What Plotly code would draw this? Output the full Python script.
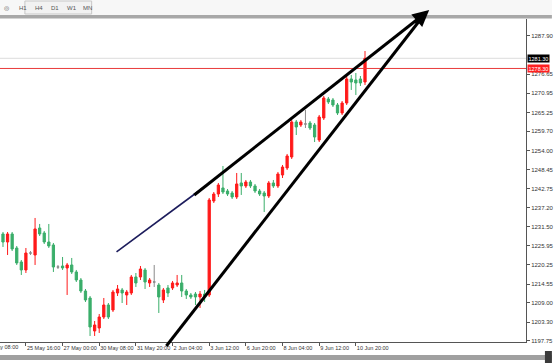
import pandas as pd
import plotly.graph_objects as go

# ---------------- data (XAUUSD, H4) ----------------
opens = [1229.37, 1227.00, 1229.37, 1225.23, 1221.09, 1218.73, 1223.75, 1223.16, 1231.14, 1229.67,
         1227.00, 1226.12, 1219.61, 1219.91, 1219.32, 1220.21, 1218.14, 1215.77, 1212.52, 1210.45,
         1200.70, 1201.58, 1204.83, 1208.38, 1206.90, 1211.93, 1212.82, 1211.34, 1211.93, 1216.66,
         1216.66, 1218.73, 1214.89, 1215.18, 1214.29, 1209.86, 1213.41, 1213.41, 1214.29, 1214.89,
         1212.52, 1211.34, 1211.63, 1210.75, 1211.63, 1211.34, 1239.12, 1241.19, 1242.97, 1242.08,
         1241.49, 1240.31, 1244.45, 1243.56, 1244.74, 1243.56, 1242.08, 1241.49, 1240.60, 1244.45,
         1243.56, 1246.81, 1248.88, 1252.13, 1262.48, 1261.59, 1261.89, 1262.18, 1261.59, 1257.16,
         1263.66, 1269.28, 1268.98, 1267.50, 1265.14, 1268.09, 1275.19, 1274.89, 1275.19, 1274.30]
highs = [1229.96, 1229.96, 1229.96, 1225.82, 1221.68, 1225.23, 1224.34, 1234.10, 1232.33, 1230.26,
         1232.33, 1226.71, 1220.21, 1222.57, 1220.80, 1222.28, 1218.73, 1216.36, 1213.11, 1211.04,
         1203.65, 1205.72, 1210.45, 1208.97, 1212.82, 1214.29, 1213.41, 1212.82, 1217.25, 1217.84,
         1219.91, 1219.32, 1216.36, 1220.21, 1214.89, 1213.41, 1214.29, 1215.48, 1217.25, 1217.25,
         1213.11, 1211.93, 1212.22, 1212.52, 1212.82, 1240.01, 1241.78, 1244.45, 1249.47, 1242.67,
         1242.08, 1247.40, 1247.40, 1245.33, 1245.33, 1244.15, 1242.67, 1242.08, 1245.04, 1245.33,
         1247.70, 1249.77, 1253.02, 1263.07, 1263.07, 1263.07, 1266.02, 1262.77, 1262.18, 1264.55,
         1270.16, 1269.87, 1269.57, 1268.09, 1268.68, 1276.07, 1276.37, 1276.96, 1276.07, 1283.46]
lows = [1225.53, 1223.16, 1224.34, 1220.21, 1217.25, 1217.84, 1223.16, 1220.21, 1228.78, 1226.41,
        1225.23, 1218.14, 1219.02, 1218.73, 1211.34, 1217.55, 1215.18, 1211.93, 1209.27, 1199.22,
        1199.22, 1200.11, 1204.24, 1204.24, 1206.31, 1211.04, 1208.97, 1208.38, 1211.34, 1213.70,
        1215.77, 1213.11, 1213.70, 1213.70, 1206.02, 1208.97, 1210.75, 1212.82, 1213.70, 1210.75,
        1210.16, 1210.16, 1208.38, 1207.50, 1209.27, 1210.75, 1238.53, 1240.31, 1241.19, 1240.60,
        1239.72, 1239.72, 1240.90, 1242.97, 1242.97, 1241.49, 1240.60, 1235.87, 1240.01, 1242.97,
        1242.97, 1245.92, 1248.29, 1251.54, 1258.63, 1261.00, 1260.70, 1260.11, 1256.56, 1256.56,
        1263.07, 1267.80, 1266.91, 1264.55, 1264.55, 1267.50, 1271.94, 1270.46, 1273.12, 1273.41]
closes = [1227.00, 1229.37, 1224.94, 1220.80, 1218.73, 1223.75, 1223.75, 1230.85, 1229.37, 1227.00,
          1225.82, 1219.61, 1219.61, 1219.32, 1220.21, 1218.14, 1215.77, 1212.52, 1209.86, 1201.88,
          1202.47, 1204.83, 1208.38, 1204.83, 1212.22, 1213.11, 1211.93, 1212.22, 1216.66, 1214.89,
          1219.02, 1215.18, 1215.77, 1215.18, 1210.75, 1212.82, 1211.93, 1214.89, 1214.89, 1212.52,
          1211.34, 1210.75, 1210.75, 1211.63, 1211.04, 1239.42, 1241.19, 1243.85, 1241.78, 1241.19,
          1240.31, 1244.15, 1243.56, 1244.74, 1243.56, 1242.08, 1241.19, 1240.60, 1244.45, 1243.56,
          1247.11, 1249.17, 1252.43, 1262.48, 1261.00, 1262.48, 1261.89, 1260.70, 1258.04, 1263.95,
          1269.57, 1268.39, 1267.50, 1265.14, 1268.09, 1275.19, 1274.30, 1274.01, 1274.01, 1281.30]
doji_bars = [6, 12, 33, 66]

first_bar = "2016-05-24 20:00"
missing_bars = ["30 May 20:00"]
hidden_tick_label = "24 May 08:00"
tick_labels = ["25 May 16:00", "27 May 00:00", "30 May 08:00", "31 May 20:00", "2 Jun 04:00",
               "3 Jun 12:00", "6 Jun 20:00", "8 Jun 04:00", "9 Jun 12:00", "10 Jun 20:00"]
price_ticks = [1287.90, 1276.65, 1270.95, 1265.25, 1259.70, 1254.00, 1248.45, 1242.75,
               1237.20, 1231.50, 1225.95, 1220.25, 1214.55, 1209.00, 1203.30, 1197.75]
bid_price = closes[-1]
hline_price = 1278.30

# trend lines: (bar index, price)
thin_line = [(24.78, 1224.05), (43.91, 1243.26)]
upper_line = [(41.74, 1240.90), (92.2, 1294.7)]
lower_line = [(35.65, 1196.26), (92.2, 1294.7)]
arrow_tip = (93.0, 1295.6)

# ---------------- build ----------------
times = []
t = pd.Timestamp(first_bar)
while len(times) < len(opens):
    lab = f"{t.day} {t:%b %H:%M}"
    if t.weekday() < 5 and lab not in missing_bars:
        times.append(lab)
    t += pd.Timedelta(hours=4)

X_RANGE = [-0.652, 114.13]
Y_RANGE = [1197.44, 1292.92]
PLOT_W, PLOT_H = 528, 323

def px_(i):
    return (i - X_RANGE[0]) / (X_RANGE[1] - X_RANGE[0])

def py_(p):
    return (p - Y_RANGE[0]) / (Y_RANGE[1] - Y_RANGE[0])

def pix_x(X):
    return X / PLOT_W

def pix_y(Y):
    return (342 - Y) / PLOT_H

def mask(vals, keep):
    return [v if keep(k) else None for k, v in enumerate(vals)]

RED = "#ff1a1a"
GREEN = "#3aae6a"
FONT = "Liberation Sans"

fig = go.Figure()
fig.add_trace(go.Candlestick(
    x=times,
    open=mask(opens, lambda k: k not in doji_bars),
    high=mask(highs, lambda k: k not in doji_bars),
    low=mask(lows, lambda k: k not in doji_bars),
    close=mask(closes, lambda k: k not in doji_bars),
    increasing=dict(line=dict(color=RED, width=1), fillcolor=RED),
    decreasing=dict(line=dict(color=GREEN, width=1), fillcolor=GREEN),
    whiskerwidth=0, showlegend=False, hoverinfo="skip"))
fig.add_trace(go.Candlestick(
    x=[times[k] for k in doji_bars],
    open=[opens[k] for k in doji_bars],
    high=[highs[k] for k in doji_bars],
    low=[lows[k] for k in doji_bars],
    close=[closes[k] for k in doji_bars],
    increasing=dict(line=dict(color="#8a8a8a", width=1), fillcolor="#8a8a8a"),
    decreasing=dict(line=dict(color="#8a8a8a", width=1), fillcolor="#8a8a8a"),
    whiskerwidth=0, showlegend=False, hoverinfo="skip"))

shapes = []
# horizontal price lines
shapes.append(dict(type="line", xref="paper", yref="y", x0=0, x1=1, y0=bid_price, y1=bid_price,
                   line=dict(color="#dcdcdc", width=1), layer="below"))
shapes.append(dict(type="line", xref="paper", yref="y", x0=0, x1=1, y0=hline_price, y1=hline_price,
                   line=dict(color="#e83a3a", width=1)))
# trend lines
for (a, b), col, w in [(thin_line, "#1c1c5c", 1.6), (upper_line, "black", 3), (lower_line, "black", 3)]:
    shapes.append(dict(type="line", xref="paper", yref="paper",
                       x0=px_(a[0]), y0=py_(a[1]), x1=px_(b[0]), y1=py_(b[1]),
                       line=dict(color=col, width=w)))
# window chrome
shapes += [
    dict(type="rect", xref="paper", yref="paper", x0=pix_x(0), x1=pix_x(554), y0=pix_y(0), y1=pix_y(15),
         fillcolor="#f7f7f7", line=dict(width=0), layer="below"),
    dict(type="rect", xref="paper", yref="paper", x0=pix_x(25), x1=pix_x(92), y0=pix_y(1), y1=pix_y(14),
         fillcolor="#f2f2f2", line=dict(color="#c8c8c8", width=1), layer="below"),
    dict(type="rect", xref="paper", yref="paper", x0=pix_x(0), x1=pix_x(554), y0=pix_y(15), y1=pix_y(18.5),
         fillcolor="#a8a8a8", line=dict(width=0), layer="below"),
    dict(type="rect", xref="paper", yref="paper", x0=pix_x(0), x1=pix_x(554), y0=pix_y(355), y1=pix_y(360),
         fillcolor="#a0a0a0", line=dict(width=0)),
    dict(type="rect", xref="paper", yref="paper", x0=pix_x(547), x1=pix_x(554), y0=pix_y(351), y1=pix_y(363),
         fillcolor="#3a3a3a", line=dict(width=0)),
]

annotations = [
    dict(xref="paper", yref="paper", x=px_(arrow_tip[0]), y=py_(arrow_tip[1]), ax=-16, ay=14,
         showarrow=True, arrowhead=2, arrowsize=1.1, arrowwidth=3, arrowcolor="black", text=""),
    dict(xref="paper", yref="y", x=1, y=bid_price, xanchor="left", yanchor="middle", xshift=1,
         text=f"{bid_price:.2f}", font=dict(size=5.5, color="white", family=FONT),
         bgcolor="black", borderpad=0.5, showarrow=False),
    dict(xref="paper", yref="y", x=1, y=hline_price, xanchor="left", yanchor="middle", xshift=1,
         text=f"{hline_price:.2f}", font=dict(size=5.5, color="white", family=FONT),
         bgcolor="#ff2020", borderpad=0.5, showarrow=False),
    dict(xref="paper", yref="paper", x=px_(-3.0), y=pix_y(347), xanchor="left", yanchor="middle",
         xshift=-6, text=hidden_tick_label, showarrow=False,
         font=dict(size=5.5, color="#333", family=FONT)),
]
for txt, X in [("◎", 2), ("H1", 17), ("H4", 33), ("D1", 49), ("W1", 65), ("MN", 81)]:
    annotations.append(dict(xref="paper", yref="paper", x=pix_x(X), y=pix_y(7.5), xanchor="left",
                            yanchor="middle", text=txt, showarrow=False,
                            font=dict(size=6, color="#555", family=FONT)))

fig.update_layout(
    width=554, height=363,
    margin=dict(l=0, r=26, t=19, b=21),
    paper_bgcolor="white", plot_bgcolor="white",
    showlegend=False,
    shapes=shapes, annotations=annotations,
    font=dict(family=FONT, size=6, color="#333"),
    xaxis=dict(type="category", categoryorder="array", categoryarray=times,
               range=X_RANGE, rangeslider=dict(visible=False),
               tickmode="array", tickvals=tick_labels, ticktext=tick_labels, tickangle=0,
               ticklabelposition="outside right", ticks="outside", ticklen=3, tickcolor="#555",
               showgrid=False, zeroline=False, showline=True, linecolor="#555", linewidth=1,
               tickfont=dict(size=5.5, color="#333")),
    yaxis=dict(side="right", range=Y_RANGE, tickmode="array", tickvals=price_ticks,
               ticktext=[f"{v:.2f}" for v in price_ticks], ticks="outside", ticklen=3,
               tickcolor="#555", showgrid=False, zeroline=False, showline=True,
               linecolor="#555", linewidth=1, tickfont=dict(size=6, color="#333")),
)

fig.write_html("out.html")
